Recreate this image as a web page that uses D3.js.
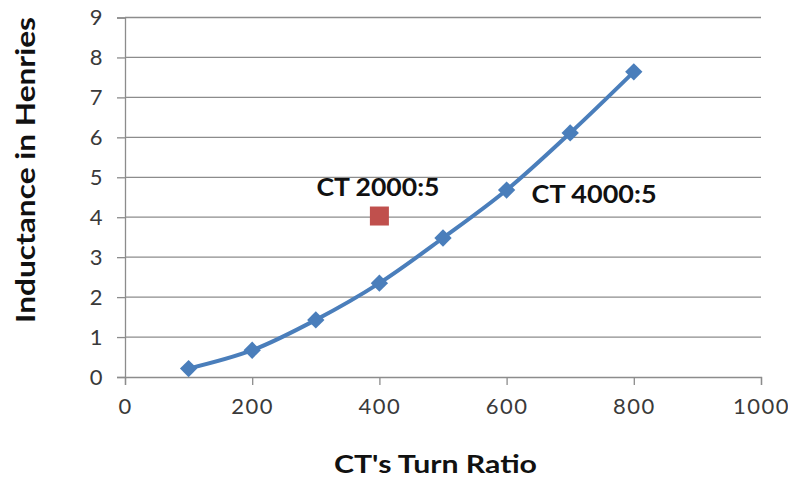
<!DOCTYPE html>
<html>
<head>
<meta charset="utf-8">
<script src="https://cdn.jsdelivr.net/npm/d3@7"></script>
<style>
  html, body { margin: 0; padding: 0; background: #ffffff; }
  svg { display: block; }
</style>
</head>
<body>
<svg id="chart" width="788" height="479"></svg>
<script>
// ---- data ----
const turnRatio = [100, 200, 300, 400, 500, 600, 700, 800];
const inductance = [0.21, 0.67, 1.43, 2.35, 3.48, 4.68, 6.11, 7.64];
const ct2000x = [400];
const ct2000y = [4.03];
const xTicks = [0, 200, 400, 600, 800, 1000];
const yTicks = [0, 1, 2, 3, 4, 5, 6, 7, 8, 9];
const labelCT2000 = "CT 2000:5";
const labelCT4000 = "CT 4000:5";
const labelCT4000Index = 5;
const xTitle = "CT's Turn Ratio";
const yTitle = "Inductance in Henries";

(function () {
// ---- layout ----
const svg = d3.select("#chart");
const plotL = 125, plotR = 761, plotT = 17.5, plotB = 377;
const x = d3.scaleLinear().domain([0, 1000]).range([plotL, plotR]);
const y = d3.scaleLinear().domain([0, 9]).range([plotB, plotT]);
const gridColor = "#8c8c8c";
const font = "Lato, 'Open Sans', sans-serif";

// gridlines
svg.append("g").selectAll("line").data(yTicks.filter(d => d > 0)).join("line")
  .attr("x1", plotL).attr("x2", plotR)
  .attr("y1", d => y(d)).attr("y2", d => y(d))
  .attr("stroke", gridColor).attr("stroke-width", 1.3);

// y axis
const yAxis = svg.append("g").attr("transform", `translate(${plotL},0)`)
  .call(d3.axisLeft(y).tickValues(yTicks).tickSize(8).tickPadding(13).tickFormat(d3.format("d")));
yAxis.select(".domain").attr("stroke", gridColor).attr("stroke-width", 1.3);
yAxis.selectAll(".tick line").attr("stroke", gridColor).attr("stroke-width", 1.3);
yAxis.selectAll(".tick text").attr("font-family", font).attr("font-size", 22)
  .attr("letter-spacing", 1.5).attr("fill", "#3a3a3a");

// x axis
const xAxis = svg.append("g").attr("transform", `translate(0,${plotB})`)
  .call(d3.axisBottom(x).tickValues(xTicks).tickSize(8).tickPadding(13).tickFormat(d3.format("d")));
xAxis.select(".domain").attr("stroke", gridColor).attr("stroke-width", 1.3);
xAxis.selectAll(".tick line").attr("stroke", gridColor).attr("stroke-width", 1.3);
xAxis.selectAll(".tick text").attr("font-family", font).attr("font-size", 22)
  .attr("letter-spacing", 1.5).attr("fill", "#3a3a3a");

// series line
const pts = turnRatio.map((d, i) => [d, inductance[i]]);
svg.append("path").datum(pts)
  .attr("fill", "none").attr("stroke", "#4A7EBB").attr("stroke-width", 4)
  .attr("stroke-linejoin", "round")
  .attr("d", d3.line().x(d => x(d[0])).y(d => y(d[1])).curve(d3.curveCatmullRom.alpha(0.5)));

// diamond markers
svg.append("g").selectAll("path").data(pts).join("path")
  .attr("d", d3.symbol().type(d3.symbolSquare).size(150))
  .attr("transform", d => `translate(${x(d[0])},${y(d[1])}) rotate(45)`)
  .attr("fill", "#4A7EBB");

// red square point
const red = ct2000x.map((d, i) => [d, ct2000y[i]]);
svg.append("g").selectAll("rect").data(red).join("rect")
  .attr("x", d => x(d[0]) - 9.5).attr("y", d => y(d[1]) - 9.5)
  .attr("width", 19).attr("height", 19)
  .attr("fill", "#C0504D");

// data labels
svg.append("text").datum(red[0])
  .attr("x", d => x(d[0]) - 63).attr("y", d => y(d[1]) - 20)
  .attr("textLength", 123).attr("lengthAdjust", "spacingAndGlyphs")
  .attr("font-family", font).attr("font-weight", "bold").attr("font-size", 24)
  .attr("fill", "#111").text(labelCT2000);

svg.append("text").datum(pts[labelCT4000Index])
  .attr("x", d => x(d[0]) + 25).attr("y", d => y(d[1]) + 13)
  .attr("textLength", 125).attr("lengthAdjust", "spacingAndGlyphs")
  .attr("font-family", font).attr("font-weight", "bold").attr("font-size", 24)
  .attr("fill", "#111").text(labelCT4000);

// axis titles
svg.append("text")
  .attr("x", 334).attr("y", 473)
  .attr("textLength", 203).attr("lengthAdjust", "spacingAndGlyphs")
  .attr("font-family", font).attr("font-weight", "bold").attr("font-size", 25)
  .attr("fill", "#111").text(xTitle);

svg.append("text")
  .attr("transform", `translate(35,323) rotate(-90)`)
  .attr("textLength", 306).attr("lengthAdjust", "spacingAndGlyphs")
  .attr("font-family", font).attr("font-weight", "bold").attr("font-size", 26)
  .attr("fill", "#111").text(yTitle);
})();
</script>
</body>
</html>
